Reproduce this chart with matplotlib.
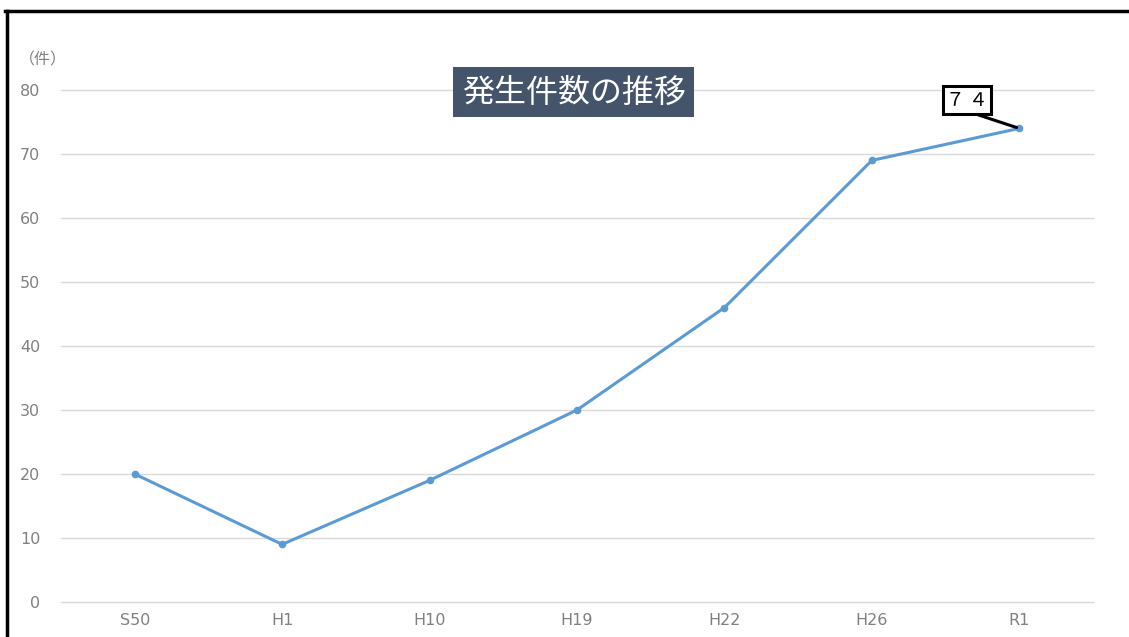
import matplotlib.pyplot as plt
from matplotlib.patches import Rectangle
from matplotlib.lines import Line2D

plt.rcParams['font.family'] = ['Noto Sans CJK JP', 'DejaVu Sans']

# 年度ごとの発生件数
years = ['S50', 'H1', 'H10', 'H19', 'H22', 'H26', 'R1']
counts = [20, 9, 19, 30, 46, 69, 74]
yticks = [0, 10, 20, 30, 40, 50, 60, 70, 80]

W, H = 1129, 637
fig = plt.figure(figsize=(W / 100, H / 100), dpi=100)
ax = fig.add_axes([61 / W, 35 / H, (1093 - 61) / W, (602 - 90) / H])

x = list(range(len(years)))
ax.plot(x, counts, color='#5B9BD5', lw=2.2, marker='o', ms=4.5, clip_on=False, zorder=3)

ax.set_xlim(-0.5, len(years) - 0.5)
ax.set_ylim(0, 80)
ax.set_yticks(yticks)
ax.set_xticks(x)
ax.set_xticklabels(years)
for v in yticks:
    ax.axhline(v, color='#D9D9D9', lw=1, clip_on=False, zorder=1)
for s in ax.spines.values():
    s.set_visible(False)
ax.tick_params(length=0, labelsize=11.5, labelcolor='#808080')
ax.tick_params(axis='y', pad=15)
ax.tick_params(axis='x', pad=8)
for lab in ax.get_xticklabels() + ax.get_yticklabels():
    lab.set_family('DejaVu Sans')

# 単位
fig.text(43 / W, 1 - 60 / H, '（件）', fontsize=11.5, color='#808080', ha='center', va='center')

# タイトル枠
fig.patches.append(Rectangle((453 / W, 1 - 117 / H), (694 - 453) / W, 50 / H,
                             transform=fig.transFigure, facecolor='#44546A',
                             edgecolor='none', figure=fig))
fig.text(574 / W, 1 - 93 / H, '発生件数の推移', fontsize=23, color='white',
         ha='center', va='center')

# 最新値のラベル
ax.annotate('７ ４', xy=(x[-1], counts[-1]), xytext=(967 / W, 1 - 100 / H),
            textcoords='figure fraction', ha='center', va='center', fontsize=13.5,
            bbox=dict(boxstyle='square,pad=0.18', fc='white', ec='black', lw=2.2),
            arrowprops=dict(arrowstyle='-', color='black', lw=2.2,
                            relpos=(0.45, 0), shrinkA=0, shrinkB=2),
            zorder=5)

# 外枠（左と上）
fig.add_artist(Line2D([6.5 / W, 6.5 / W], [0, 1 - 11 / H], transform=fig.transFigure,
                      color='black', lw=2.5))
fig.add_artist(Line2D([5 / W, 1], [1 - 11 / H, 1 - 11 / H], transform=fig.transFigure,
                      color='black', lw=2.5))

fig.savefig('out.png', dpi=100)
